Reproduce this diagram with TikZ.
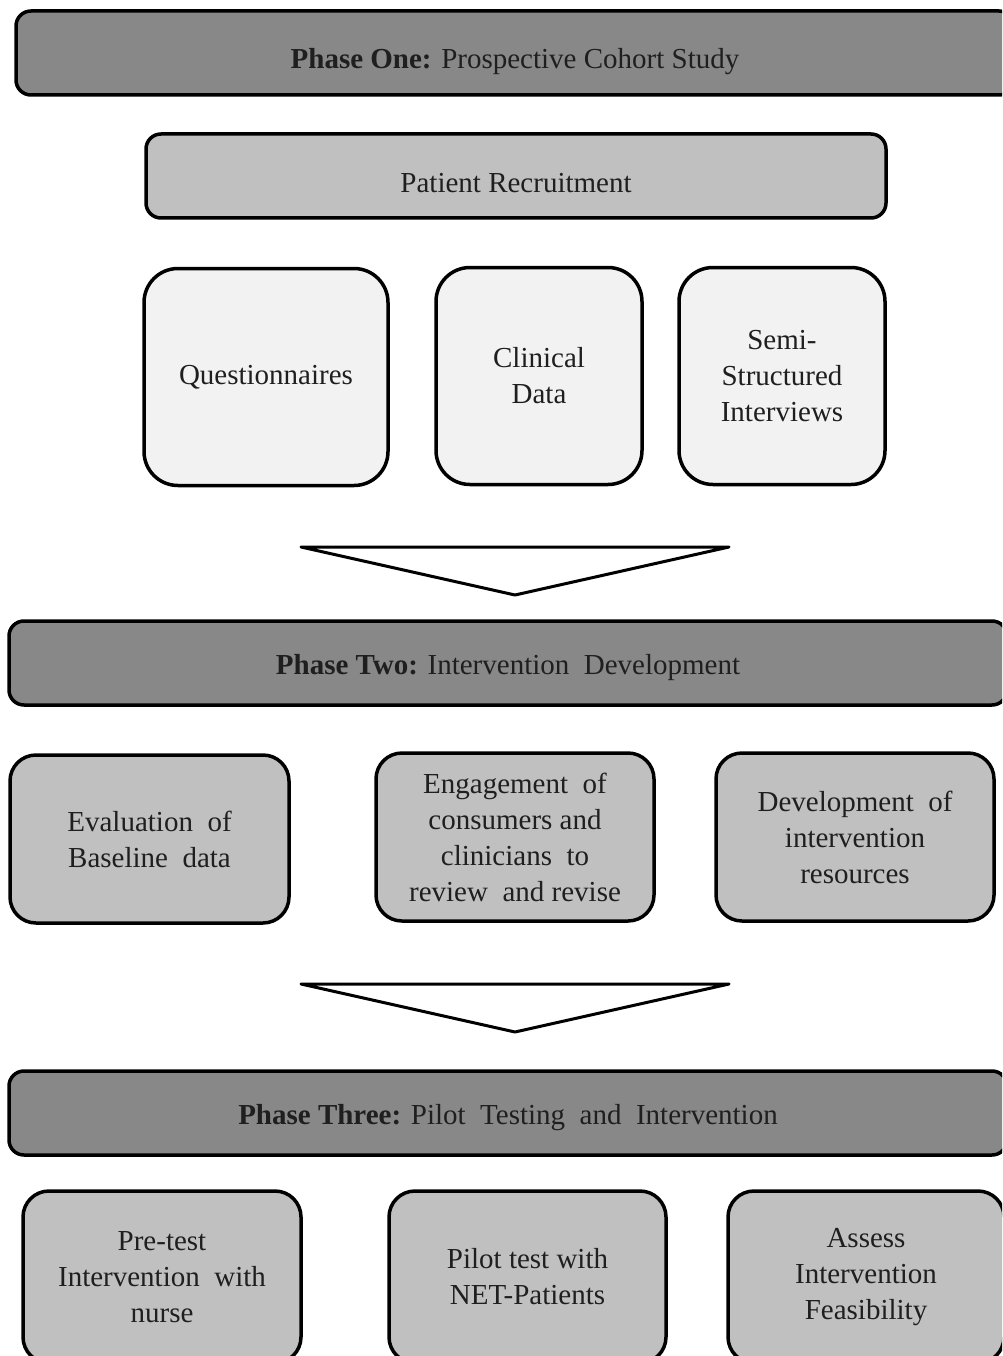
\documentclass[tikz,border=0pt]{standalone}
\usepackage{fontspec}
\setmainfont{Liberation Serif}
\begin{document}
\begin{tikzpicture}[x=1pt,y=-1pt,
  txt/.style={font=\fontsize{29}{36}\selectfont, text=black!88, align=center},
  phasebar/.style={draw=black, line width=3.5pt, fill=phasegray, rounded corners=15pt, minimum width=998pt, minimum height=84pt, inner sep=0pt, txt},
  subbar/.style={draw=black, line width=3.5pt, fill=lightgray2, rounded corners=15pt, inner sep=0pt, txt},
  palebox/.style={draw=black, line width=3.5pt, fill=palegray, rounded corners=34pt, inner sep=0pt, txt},
  graybox/.style={draw=black, line width=3.5pt, fill=lightgray2, rounded corners=26pt, inner sep=0pt, txt, minimum height=168pt},
  downarrow/.style={draw=black, line width=3pt, fill=white, line join=round}
]
\definecolor{phasegray}{RGB}{136,136,136}
\definecolor{lightgray2}{RGB}{192,192,192}
\definecolor{palegray}{RGB}{242,242,242}
\clip (0,0) rectangle (1002,1356);
\fill[white] (0,0) rectangle (1002,1356);

% Phase one
\node[phasebar, text height=38pt, text depth=6pt] (p1) at (515,53) {\textbf{Phase One:} Prospective Cohort Study};
\node[subbar, minimum width=740pt, minimum height=84pt, text height=40pt, text depth=6pt] (rec) at (516,176) {Patient Recruitment};
\node[palebox, minimum width=244pt, minimum height=217pt] (q) at (266,377) {Questionnaires};
\node[palebox, minimum width=206pt, minimum height=217pt] (cd) at (539,376) {Clinical\\Data};
\node[palebox, minimum width=206pt, minimum height=217pt] (ssi) at (782,376) {Semi-\\Structured\\Interviews};

% arrow 1
\coordinate (a1l) at (301,547);
\coordinate (a1r) at (729,547);
\coordinate (a1t) at (515,595);
\draw[downarrow] (a1l) -- (a1r) -- (a1t) -- cycle;

% Phase two
\node[phasebar, text height=28pt, text depth=6pt] (p2) at (508,663) {\textbf{Phase Two:} Intervention\ \ Development};
\node[graybox, minimum width=279pt] (ev) at (149.5,839) {Evaluation\ \ of\\Baseline\ \ data};
\node[graybox, minimum width=278pt] (en) at (515,837) {Engagement\ \ of\\consumers and\\clinicians\ \ to\\review\ \ and revise};
\node[graybox, minimum width=278pt] (dev) at (855,837) {Development\ \ of\\intervention\\resources};

% arrow 2
\coordinate (a2l) at (301,984);
\coordinate (a2r) at (729,984);
\coordinate (a2t) at (515,1032);
\draw[downarrow] (a2l) -- (a2r) -- (a2t) -- cycle;

% Phase three
\node[phasebar, text height=28pt, text depth=6pt] (p3) at (508,1113) {\textbf{Phase Three:} Pilot\ \ Testing\ \ and\ \ Intervention};
\node[graybox, minimum width=278pt, minimum height=172pt] (pre) at (162,1277) {Pre-test\\Intervention\ \ with\\nurse};
\node[graybox, minimum width=277pt, minimum height=172pt] (pil) at (527.5,1277) {Pilot test with\\NET-Patients};
\node[graybox, minimum width=276pt, minimum height=172pt] (ass) at (866,1277) {Assess\\Intervention\\Feasibility};
\end{tikzpicture}
\end{document}
